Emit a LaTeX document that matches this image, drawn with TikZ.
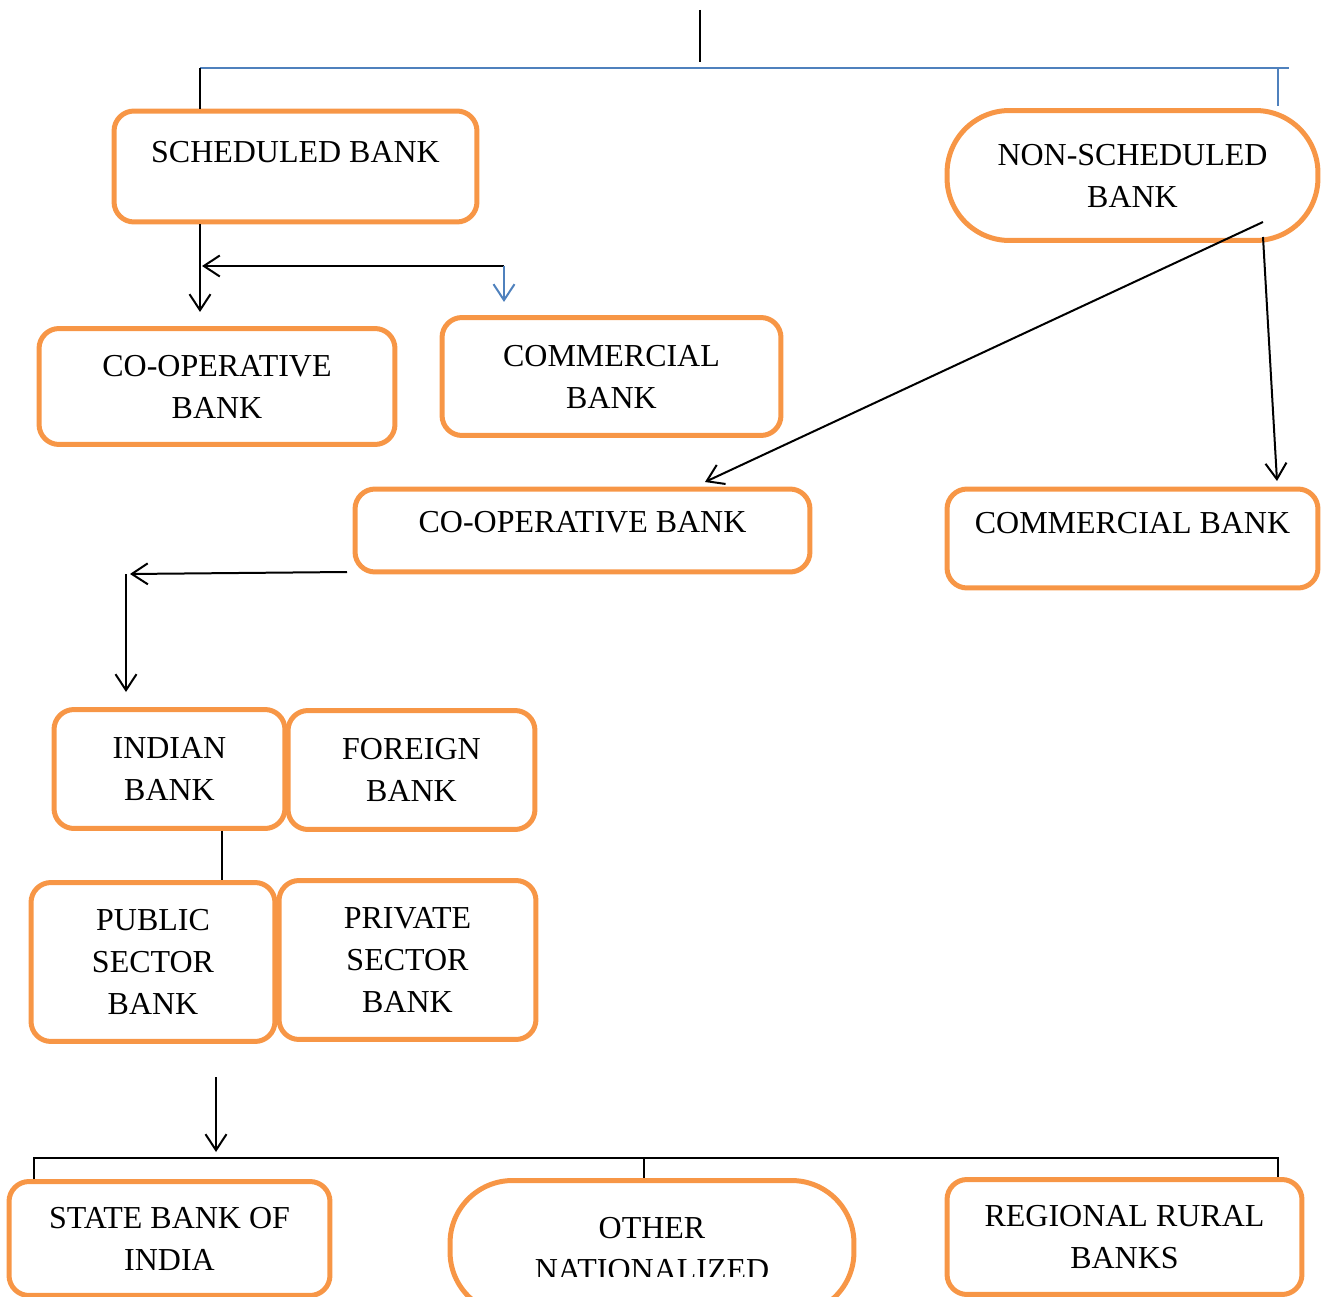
\documentclass[tikz,border=0pt]{standalone}
\usepackage{fontspec}
\setmainfont{Liberation Serif}
\usetikzlibrary{arrows.meta}
\definecolor{boxorange}{HTML}{F79646}
\definecolor{lineblue}{HTML}{4F81BD}
\tikzset{
  bankbox/.style={draw=boxorange,line width=0.1cm,rounded corners=0.4cm,align=center,
    font=\fontsize{18.2pt}{23.9pt}\selectfont},
  pillbox/.style={bankbox,rounded corners=1.25cm},
  blueline/.style={draw=lineblue,line width=0.04cm},
  >={Straight Barb[length=0.32cm,width=0.42cm]}
}
\begin{document}
\begin{tikzpicture}[x=0.02cm,y=-0.02cm,line width=0.04cm]
\clip (0,0) rectangle (1322,1297);
% boxes
\node[bankbox,minimum width=7.26cm,minimum height=2.22cm,text height=0.45cm,text depth=0.61cm] (sched) at (295.5,166.5) {SCHEDULED BANK};
\node[pillbox,minimum width=7.42cm,minimum height=2.6cm] (nonsched) at (1132.5,175.5) {NON-SCHEDULED\\BANK};
\node[bankbox,minimum width=7.12cm,minimum height=2.32cm] (coopa) at (217,386.5) {CO-OPERATIVE\\BANK};
\node[bankbox,minimum width=6.78cm,minimum height=2.36cm] (comma) at (611.5,376.5) {COMMERCIAL\\BANK};
\node[bankbox,minimum width=9.1cm,minimum height=1.66cm,text height=0.45cm,text depth=0.37cm] (coopb) at (582.5,530.5) {CO-OPERATIVE BANK};
\node[bankbox,minimum width=7.42cm,minimum height=1.98cm,text height=0.45cm,text depth=0.65cm] (commb) at (1132.5,538.5) {COMMERCIAL BANK};
\node[bankbox,minimum width=4.62cm,minimum height=2.38cm] (indian) at (169.5,769) {INDIAN\\BANK};
\node[bankbox,minimum width=4.94cm,minimum height=2.38cm] (foreign) at (411.5,770) {FOREIGN\\BANK};
\node[bankbox,minimum width=4.88cm,minimum height=3.18cm] (public) at (153,962) {PUBLIC\\SECTOR\\BANK};
\node[bankbox,minimum width=5.14cm,minimum height=3.18cm] (private) at (407.5,960) {PRIVATE\\SECTOR\\BANK};
\node[bankbox,minimum width=6.42cm,minimum height=2.28cm] (sbi) at (169.5,1238.5) {STATE BANK OF\\INDIA};
\node[pillbox,minimum width=8.08cm,minimum height=2.68cm] (other) at (652,1247.5) {};
\begin{scope}
\clip (440,1190) rectangle (860,1276);
\node[font=\fontsize{18.2pt}{23.9pt}\selectfont,align=center] (othertext) at (652,1249.5) {OTHER\\NATIONALIZED};
\end{scope}
\node[bankbox,minimum width=7.1cm,minimum height=2.3cm] (rrb) at (1124.5,1237) {REGIONAL RURAL\\BANKS};
% top bracket
\coordinate (root) at (700,10);
\coordinate (rootend) at (700,62);
\coordinate (barl) at (200,68);
\coordinate (barr) at (1289,68);
\coordinate (barn) at (1278,68);
\coordinate (barnend) at (1278,106);
\draw (root) -- (rootend);
\draw[blueline] (barl) -- (barr);
\draw (barl) -- (barl |- sched.north);
\draw[blueline] (barn) -- (barnend);
% scheduled branch
\coordinate (schedin) at (200,312);
\coordinate (fork) at (504,266);
\coordinate (forkend) at (202,266);
\coordinate (forkdown) at (504,302);
\draw[->] (barl |- sched.south) -- (schedin);
\draw[->] (fork) -- (forkend);
\draw[blueline,->] (fork) -- (forkdown);
% non-scheduled branch
\coordinate (nsa) at (1263,222);
\coordinate (nsb) at (1263,237);
\coordinate (coopbin) at (705,482);
\coordinate (commbin) at (1277,481);
\draw[->] (nsa) -- (coopbin);
\draw[->] (nsb) -- (commbin);
% co-operative to indian
\coordinate (coopout) at (347,572);
\coordinate (elbow) at (130,574);
\coordinate (elbowtop) at (126,574);
\coordinate (indianin) at (126,692);
\draw[->] (coopout) -- (elbow);
\draw[->] (elbowtop) -- (indianin);
\coordinate (link) at (222,0);
\draw (link |- indian.south) -- (link |- public.north);
% lower bus
\coordinate (down) at (216,1077);
\coordinate (downend) at (216,1152);
\coordinate (busl) at (34,1158);
\coordinate (busm) at (644,1158);
\coordinate (busr) at (1278,1158);
\draw[->] (down) -- (downend);
\draw (busl |- sbi.north) -- (busl) -- (busr) -- (busr |- rrb.north);
\draw (busm) -- (busm |- other.north);
\end{tikzpicture}
\end{document}
